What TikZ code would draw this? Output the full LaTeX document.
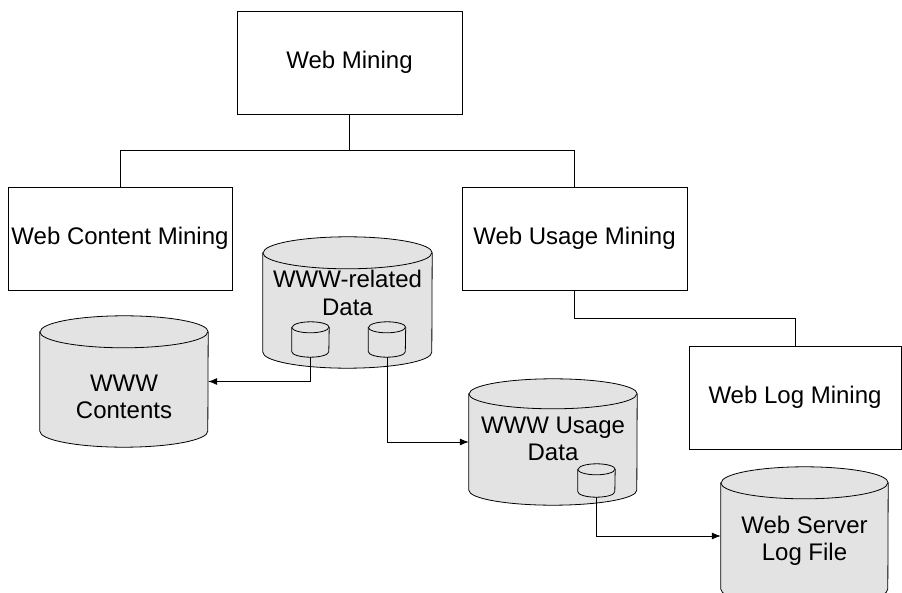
\documentclass[tikz,border=0pt]{standalone}
\usepackage{fontspec}
\setmainfont{Liberation Sans}
\usepackage{tikz}
\usetikzlibrary{arrows.meta}
\definecolor{dbgray}{RGB}{227,227,227}
\newcommand{\dbdraw}[3]{%
  \filldraw [dbline] ([yshift=-#3]#1.north west) -- ([yshift=#3]#1.south west) arc (180:360:#2 and #3)
    -- ([yshift=-#3]#1.north east) arc (0:180:#2 and #3) -- cycle;
  \draw [dbline] ([yshift=-#3]#1.north west) arc (180:360:#2 and #3);}

\begin{document}
\begin{tikzpicture}[x=1pt,y=1pt]
\tikzstyle{every node}+=[inner sep=0pt]
\tikzstyle{box}=[draw,line width=0.8pt,font=\fontsize{24}{27.5}\selectfont]
\tikzstyle{db}=[rectangle]
\tikzstyle{dbline}=[draw=black,fill=dbgray,line width=0.8pt]
\tikzstyle{dbtext}=[align=center,font=\fontsize{24}{27.5}\selectfont]
\tikzstyle{link}=[line width=0.8pt]
\tikzstyle{arr}=[line width=0.8pt,-{Latex[length=9pt,width=7pt]}]
\useasboundingbox (0,0) rectangle (902,-593);
\node [box,minimum width=225,minimum height=103] (webmining) at (349.5,-62.5) {Web Mining};
\node [box,minimum width=224,minimum height=103] (content) at (120,-238.5) {Web Content Mining};
\node [box,minimum width=225,minimum height=103] (usage) at (574.5,-238.5) {Web Usage Mining};
\node [box,minimum width=212,minimum height=103] (weblog) at (795,-397.5) {Web Log Mining};
\draw [link] (webmining.south) -- ++(0,-36) coordinate (split);
\draw [link] (content.north) |- (split) -| (usage.north);
\draw [link] (usage.south) -- ++(0,-28) -| (weblog.north);
\node [db,minimum width=169,minimum height=131] (related) at (347.5,-302.5) {};
\dbdraw{related}{84.5}{16}
\node [dbtext] (relatedtext) at (347.5,-293) {WWW-related\\Data};
\node [db,minimum width=37,minimum height=35] (smallA) at (310.5,-339.5) {};
\dbdraw{smallA}{18.5}{5.5}
\node [db,minimum width=37,minimum height=35] (smallB) at (387,-339.5) {};
\dbdraw{smallB}{18.5}{5.5}
\node [db,minimum width=168,minimum height=131] (contents) at (124,-381.5) {};
\dbdraw{contents}{84}{16}
\node [dbtext] (contentstext) at (124,-397) {WWW\\Contents};
\node [db,minimum width=168,minimum height=126] (usedata) at (553,-442) {};
\dbdraw{usedata}{84}{15}
\node [dbtext] (usedatatext) at (553,-439) {WWW Usage\\Data};
\node [db,minimum width=37,minimum height=33] (smallC) at (596.5,-480.5) {};
\dbdraw{smallC}{18.5}{5.5}
\node [db,minimum width=167,minimum height=138] (logfile) at (804.5,-536) {};
\dbdraw{logfile}{83.5}{16}
\node [dbtext] (logfiletext) at (804.5,-541) {Web Server\\Log File};
\draw [arr] (smallA.south) |- (contents);
\draw [arr] (smallB.south) |- (usedata);
\draw [arr] (smallC.south) |- (logfile);
\end{tikzpicture}
\end{document}
